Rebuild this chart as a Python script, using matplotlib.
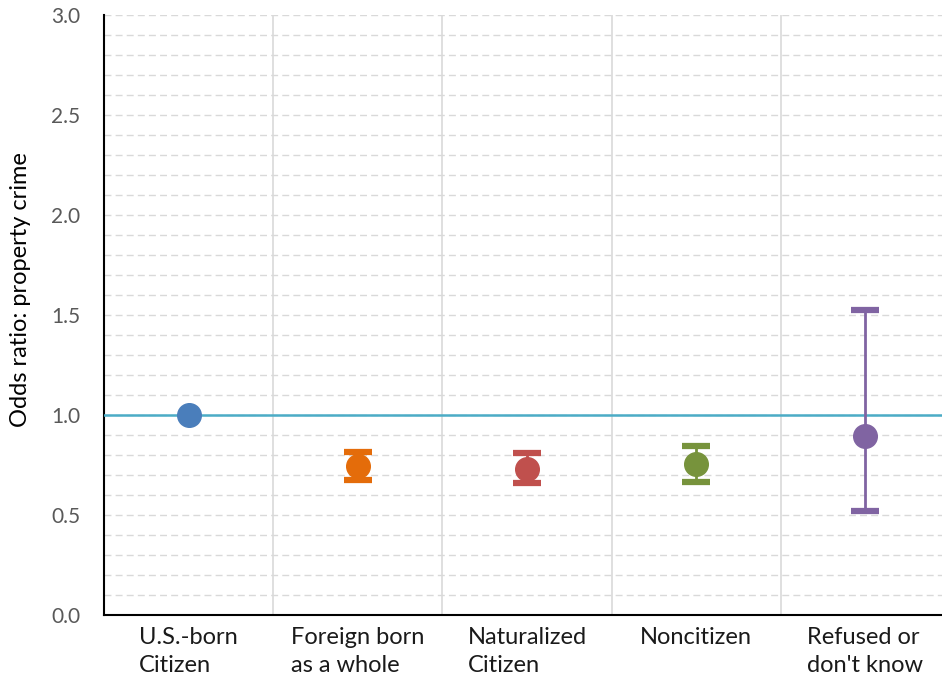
import numpy as np
import matplotlib
matplotlib.use("Agg")
from matplotlib import pyplot as plt

plt.rcParams['font.family'] = ['Lato', 'DejaVu Sans']

# categories and odds ratios
groups = ["U.S.-born\nCitizen", "Foreign born\nas a whole", "Naturalized\nCitizen",
          "Noncitizen", "Refused or\ndon't know"]
odds = [1.0, 0.745, 0.73, 0.755, 0.895]
upper = [1.0, 0.815, 0.81, 0.845, 1.525]
lower = [1.0, 0.675, 0.66, 0.665, 0.52]
colors = ["#4A7EBB", "#E46C0A", "#C0504D", "#77933C", "#8064A2"]

fig = plt.figure(figsize=(9.42, 6.81), dpi=100)
ax = fig.add_axes([104 / 942, 66 / 681, 846 / 942, 600 / 681])

x = np.arange(len(groups))
for i in x:
    if upper[i] != lower[i]:
        ax.errorbar(x[i], odds[i], yerr=[[odds[i] - lower[i]], [upper[i] - odds[i]]],
                    fmt='none', ecolor=colors[i], elinewidth=2, capsize=10,
                    capthick=4.5, zorder=4)
    ax.plot(x[i], odds[i], 'o', color=colors[i], markersize=17, zorder=5)

# reference line at 1
ax.axhline(1.0, color="#4BACC6", lw=1.8, zorder=3)

ax.set_xlim(-0.5, 4.5)
ax.set_ylim(0, 3)
ax.set_yticks(np.arange(0, 3.01, 0.5))
ax.set_yticklabels([f"{v:.1f}" for v in np.arange(0, 3.01, 0.5)])
ax.set_yticks(np.arange(0, 3.01, 0.1), minor=True)
ax.yaxis.grid(True, which='both', color="#D9D9D9", linestyle=(0, (5, 3)), lw=1)
for b in np.arange(0.5, 4.5, 1):
    ax.axvline(b, color="#D9D9D9", lw=1.2, zorder=1)
ax.set_axisbelow(True)

ax.set_xticks(x)
ax.set_xticklabels(groups, fontsize=17, multialignment='left', color="#1a1a1a",
                   linespacing=1.4)
ax.tick_params(axis='x', length=0, pad=9)
ax.tick_params(axis='y', which='both', length=0, labelsize=15, labelcolor="#595959", pad=17)

for s in ['top', 'right']:
    ax.spines[s].set_visible(False)
ax.spines['left'].set_color('black')
ax.spines['left'].set_linewidth(1.5)
ax.spines['bottom'].set_color('black')
ax.spines['bottom'].set_linewidth(1.5)

ax.set_ylabel("Odds ratio: property crime", fontsize=17)
ax.yaxis.set_label_coords(-0.086, 0.543)

plt.savefig("out.png", dpi=100)
